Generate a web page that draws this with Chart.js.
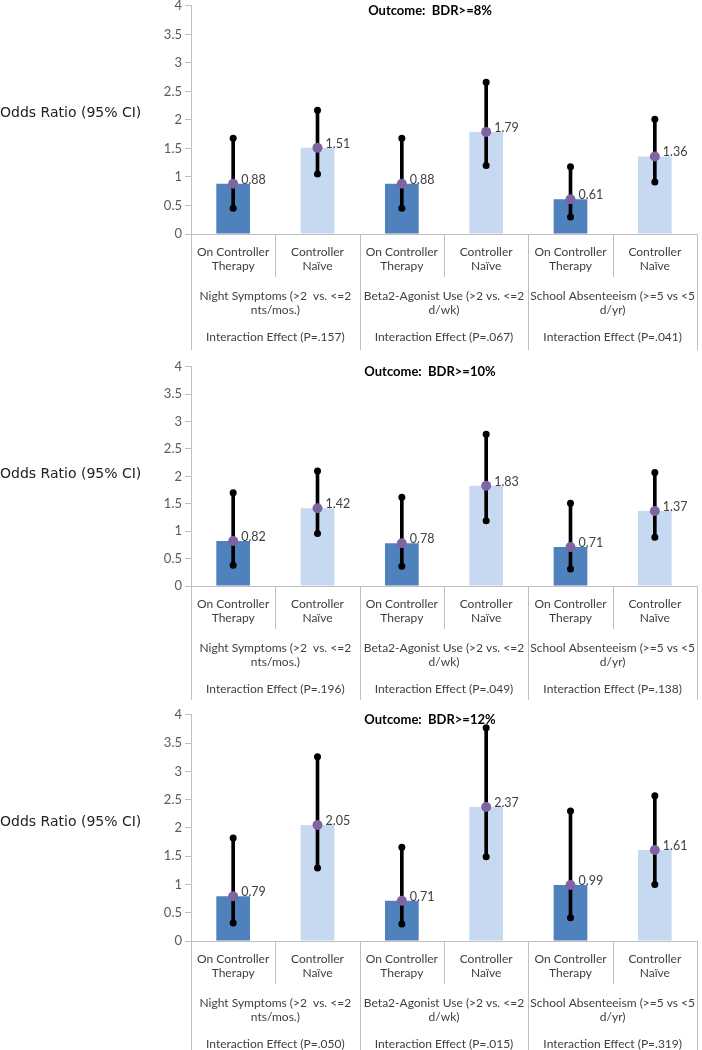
<!DOCTYPE html>
<html>
<head>
<meta charset="utf-8">
<script src="https://cdn.jsdelivr.net/npm/chart.js@4.4.1/dist/chart.umd.min.js"></script>
<style>
  html, body { margin: 0; padding: 0; background: #fff; width: 702px; height: 1050px; overflow: hidden; position: relative; }
  canvas { position: absolute; left: 0; }
</style>
</head>
<body>
<canvas id="chart8" width="702" height="355" style="top:-5px"></canvas>
<canvas id="chart10" width="702" height="344" style="top:356px"></canvas>
<canvas id="chart12" width="702" height="346" style="top:704px"></canvas>
<script>
// categories on the x axis (two lines each)
var categories = [
  ['On Controller', 'Therapy'], ['Controller', 'Naïve'],
  ['On Controller', 'Therapy'], ['Controller', 'Naïve'],
  ['On Controller', 'Therapy'], ['Controller', 'Naïve']
];
var groupLabels = [
  ['Night Symptoms (>2  vs. <=2', 'nts/mos.)'],
  ['Beta2-Agonist Use (>2 vs. <=2', 'd/wk)'],
  ['School Absenteeism (>=5 vs <5', 'd/yr)']
];
var barColors = ['#4f81bd', '#c6d9f1', '#4f81bd', '#c6d9f1', '#4f81bd', '#c6d9f1'];

// Outcome BDR>=8%
var or8 = [0.88, 1.51, 0.88, 1.79, 0.61, 1.36];
var lower8 = [0.45, 1.05, 0.45, 1.20, 0.30, 0.91];
var upper8 = [1.68, 2.17, 1.68, 2.66, 1.18, 2.01];
var pvals8 = ['.157', '.067', '.041'];

// Outcome BDR>=10%
var or10 = [0.82, 1.42, 0.78, 1.83, 0.71, 1.37];
var lower10 = [0.38, 0.96, 0.36, 1.19, 0.31, 0.89];
var upper10 = [1.70, 2.10, 1.62, 2.77, 1.51, 2.07];
var pvals10 = ['.196', '.049', '.138'];

// Outcome BDR>=12%
var or12 = [0.79, 2.05, 0.71, 2.37, 0.99, 1.61];
var lower12 = [0.32, 1.29, 0.30, 1.49, 0.41, 1.00];
var upper12 = [1.82, 3.26, 1.66, 3.77, 2.30, 2.57];
var pvals12 = ['.050', '.015', '.319'];

var axisColor = '#bfbfbf';
var textColor = '#404040';

// draws value labels, separators, group labels, title and the side label
var panelDecor = {
  id: 'panelDecor',
  afterDraw: function (chart, args, opts) {
    var ctx = chart.ctx;
    var x = chart.scales.x;
    var area = chart.chartArea;
    var axisY = area.bottom;

    // value labels next to the purple points
    var meta = chart.getDatasetMeta(0);
    ctx.save();
    ctx.font = '12.5px Lato';
    ctx.fillStyle = textColor;
    ctx.textAlign = 'left';
    ctx.textBaseline = 'middle';
    meta.data.forEach(function (pt, i) {
      ctx.fillText(chart.data.datasets[0].data[i].toFixed(2), pt.x + 8, pt.y - 4);
    });

    // category boundaries
    var n = chart.data.labels.length;
    var bounds = [area.left];
    for (var k = 1; k < n; k++) {
      bounds.push((x.getPixelForValue(k - 1) + x.getPixelForValue(k)) / 2);
    }
    bounds.push(area.right);
    ctx.strokeStyle = axisColor;
    ctx.lineWidth = 1;
    bounds.forEach(function (b, k) {
      var len = (k % 2 === 0) ? 120 : 43;
      var bx = Math.round(b) + 0.5;
      ctx.beginPath();
      ctx.moveTo(bx, axisY);
      ctx.lineTo(bx, axisY + len);
      ctx.stroke();
    });

    // group labels and interaction effect
    ctx.font = '12px Lato';
    ctx.textAlign = 'center';
    groupLabels.forEach(function (lines, g) {
      var cx = (bounds[2 * g] + bounds[2 * g + 2]) / 2;
      ctx.fillText(lines[0], cx, axisY + 62);
      ctx.fillText(lines[1], cx, axisY + 76);
      ctx.fillText('Interaction Effect (P=' + opts.pvals[g] + ')', cx, axisY + 103);
    });

    // panel title
    ctx.font = 'bold 13px Lato';
    ctx.fillStyle = '#000';
    ctx.fillText(opts.title, (area.left + area.right) / 2 - 14, area.top + 5);

    // side label
    ctx.font = '14px "DejaVu Sans"';
    ctx.fillStyle = '#222';
    ctx.textAlign = 'left';
    ctx.fillText('Odds Ratio (95% CI)', 0, area.top + 108);
    ctx.restore();
  }
};

function makePanel(id, title, values, lower, upper, pvals, xHeight) {
  var ranges = lower.map(function (l, i) { return [l, upper[i]]; });
  return new Chart(document.getElementById(id), {
    type: 'bar',
    data: {
      labels: categories,
      datasets: [
        { type: 'line', data: values, showLine: false, pointRadius: 5, pointBackgroundColor: '#8064a2', pointBorderWidth: 0, order: 0 },
        { type: 'line', data: lower, showLine: false, pointRadius: 3.5, pointBackgroundColor: '#000', pointBorderWidth: 0, order: 1 },
        { type: 'line', data: upper, showLine: false, pointRadius: 3.5, pointBackgroundColor: '#000', pointBorderWidth: 0, order: 1 },
        { data: ranges, backgroundColor: '#000', barThickness: 3, grouped: false, order: 2 },
        { data: values, backgroundColor: barColors, barPercentage: 0.4, categoryPercentage: 1, grouped: false, order: 3 }
      ]
    },
    options: {
      responsive: false,
      animation: false,
      events: [],
      layout: { padding: { top: 10, left: 0, right: 0, bottom: 0 } },
      plugins: {
        legend: { display: false },
        tooltip: { enabled: false },
        panelDecor: { title: title, pvals: pvals }
      },
      scales: {
        x: {
          offset: true,
          grid: { display: false, drawTicks: false },
          border: { color: axisColor },
          ticks: { font: { family: 'Lato', size: 12 }, color: textColor, padding: 11, maxRotation: 0, autoSkip: false },
          afterFit: function (s) { s.height = xHeight; }
        },
        y: {
          min: 0,
          max: 4,
          ticks: {
            stepSize: 0.5,
            font: { family: 'Lato', size: 13 },
            color: '#595959',
            padding: 3,
            callback: function (v) { return String(+v); }
          },
          grid: { drawOnChartArea: false, color: axisColor, tickLength: 6 },
          border: { color: axisColor },
          afterFit: function (s) { s.width = 191; }
        }
      }
    },
    plugins: [panelDecor]
  });
}

makePanel('chart8', 'Outcome:  BDR>=8%', or8, lower8, upper8, pvals8, 116);
makePanel('chart10', 'Outcome:  BDR>=10%', or10, lower10, upper10, pvals10, 114);
makePanel('chart12', 'Outcome:  BDR>=12%', or12, lower12, upper12, pvals12, 109);
</script>
</body>
</html>
